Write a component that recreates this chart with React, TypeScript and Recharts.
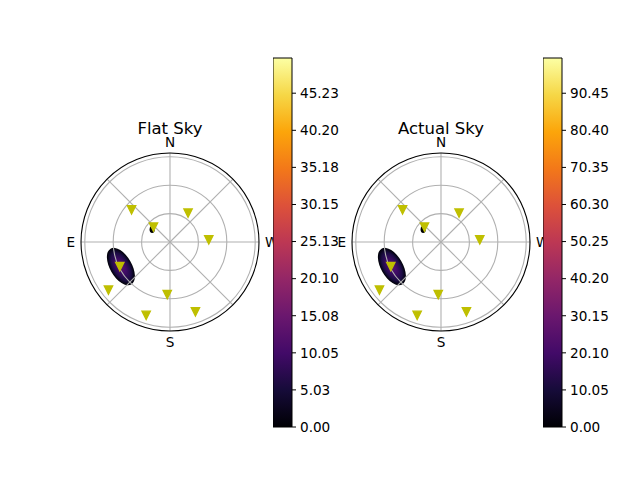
import {
  RadarChart,
  Radar,
  PolarGrid,
  PolarAngleAxis,
  PolarRadiusAxis,
  BarChart,
  Bar,
  XAxis,
  YAxis,
} from 'recharts'

// satellites: azimuth (deg, N=0, E=90) and zenith angle (deg)
const SAT_AZ = [50, 328, 48, 273, 116, 128, 177, 162, 200]
const SAT_ZEN = [53, 36, 23.5, 41, 59, 82.5, 55.5, 81.5, 78.5]

// bright spots in the sky map
const SPOT_AZ = [116.6, 55]
const SPOT_ZEN = [58, 23]
const SPOT_KIND = ['main', 'minor']

const COMPASS_TICKS = [0, 45, 90, 135, 180, 225, 270, 315]
const COMPASS_LABELS: Record<number, string> = { 0: 'N', 90: 'E', 180: 'S', 270: 'W' }
const RING_TICKS = [30, 60, 90]
const ZEN_MAX = 93.5

const FLAT_MAX = 50
const FLAT_TICKS = [0, 5.03, 10.05, 15.08, 20.1, 25.13, 30.15, 35.18, 40.2, 45.23]
const ACTUAL_MAX = 100
const ACTUAL_TICKS = [0, 10.05, 20.1, 30.15, 40.2, 50.25, 60.3, 70.35, 80.4, 90.45]

const INFERNO = [
  '#000004', '#160b39', '#420a68', '#6a176e', '#932667', '#bc3754',
  '#dd513a', '#f37819', '#fca50a', '#f6d746', '#fcffa4',
]

const FONT = 'DejaVu Sans'
const SAT_COLOR = '#bfbf00'
const SIZE = 240
const R_OUT = 89

const satData = SAT_AZ.map((az, i) => ({ az, zen: SAT_ZEN[i] }))
const spotData = SPOT_AZ.map((az, i) => ({ az, zen: SPOT_ZEN[i], kind: SPOT_KIND[i] }))

function CompassTick(props: any) {
  const { x, y, payload } = props
  const label = COMPASS_LABELS[payload.value]
  if (!label) return null
  let anchor = 'middle'
  let dy = '0'
  if (payload.value === 90) {
    anchor = 'end'
    dy = '0.36em'
  } else if (payload.value === 270) {
    anchor = 'start'
    dy = '0.36em'
  } else if (payload.value === 180) {
    dy = '0.73em'
  }
  return (
    <text x={x} y={y} dy={dy} textAnchor={anchor} fontSize={13.6} fill="#000" fontFamily={FONT}>
      {label}
    </text>
  )
}

function SatMarker(props: any) {
  const { cx, cy } = props
  const s = 4.2
  return (
    <path
      d={`M${cx - s},${cy - s}L${cx + s},${cy - s}L${cx},${cy + s}Z`}
      fill={SAT_COLOR}
      stroke={SAT_COLOR}
      strokeWidth={1.3}
      strokeLinejoin="miter"
    />
  )
}

function makeSpot(gid: string) {
  return (props: any) => {
    const { cx, cy, index } = props
    if (SPOT_KIND[index] === 'minor') {
      return <ellipse key={index} cx={cx} cy={cy} rx={2.6} ry={3.4} fill="#000004" />
    }
    return (
      <g key={index}>
        <defs>
          <radialGradient id={gid}>
            <stop offset="0%" stopColor="#5e1472" />
            <stop offset="40%" stopColor="#3c0b63" />
            <stop offset="72%" stopColor="#1c0c45" />
            <stop offset="90%" stopColor="#08051c" />
            <stop offset="100%" stopColor="#000004" />
          </radialGradient>
        </defs>
        <ellipse
          cx={cx}
          cy={cy}
          rx={10.9}
          ry={20.7}
          fill={`url(#${gid})`}
          transform={`rotate(-30 ${cx} ${cy})`}
        />
      </g>
    )
  }
}

function SkyPlot({ left, title, gid }: { left: number; title: string; gid: string }) {
  const common = {
    width: SIZE,
    height: SIZE,
    cx: SIZE / 2,
    cy: SIZE / 2,
    outerRadius: R_OUT,
    startAngle: 90,
    endAngle: 450,
    margin: { top: 0, right: 0, bottom: 0, left: 0 },
  }
  return (
    <>
      <div style={{ position: 'absolute', left, top: 242 - SIZE / 2 }}>
        <RadarChart {...common} data={spotData}>
          <PolarAngleAxis dataKey="az" type="number" domain={[0, 360]} ticks={COMPASS_TICKS} tick={false} axisLine={false} tickLine={false} />
          <PolarRadiusAxis type="number" domain={[0, ZEN_MAX]} ticks={RING_TICKS} tick={false} axisLine={false} tickLine={false} />
          <Radar dataKey="zen" fill="none" stroke="none" dot={makeSpot(gid)} isAnimationActive={false} />
        </RadarChart>
      </div>
      <div style={{ position: 'absolute', left, top: 242 - SIZE / 2 }}>
        <RadarChart {...common} data={satData}>
          <PolarGrid gridType="circle" stroke="#b0b0b0" strokeWidth={1.1} />
          <PolarAngleAxis
            dataKey="az"
            type="number"
            domain={[0, 360]}
            ticks={COMPASS_TICKS}
            tick={<CompassTick />}
            tickLine={false}
            tickSize={6}
            axisLineType="circle"
            axisLine={{ stroke: '#000', strokeWidth: 1.1 }}
          />
          <PolarRadiusAxis type="number" domain={[0, ZEN_MAX]} ticks={RING_TICKS} tick={false} axisLine={false} tickLine={false} />
          <Radar dataKey="zen" fill="none" stroke="none" dot={<SatMarker />} isAnimationActive={false} />
        </RadarChart>
      </div>
      <div
        style={{
          position: 'absolute',
          left: left + SIZE / 2 - 100,
          width: 200,
          top: 121.3,
          textAlign: 'center',
          fontSize: 16.5,
          lineHeight: '16px',
          color: '#000',
        }}
      >
        {title}
      </div>
    </>
  )
}

function ColorBar({ left, max, ticks, gid }: { left: number; max: number; ticks: number[]; gid: string }) {
  return (
    <div style={{ position: 'absolute', left, top: 48.3 }}>
      <BarChart
        width={79}
        height={389}
        data={[{ name: 'c', v: max }]}
        margin={{ top: 10, right: 0, bottom: 10, left: 0 }}
        barCategoryGap={0}
      >
        <defs>
          <linearGradient id={gid} x1="0" y1="1" x2="0" y2="0">
            {INFERNO.map((c, i) => (
              <stop key={i} offset={`${i * 10}%`} stopColor={c} />
            ))}
          </linearGradient>
        </defs>
        <XAxis dataKey="name" hide />
        <YAxis
          orientation="right"
          width={60}
          type="number"
          domain={[0, max]}
          ticks={ticks}
          interval={0}
          axisLine={false}
          tickLine={{ stroke: '#000', strokeWidth: 1 }}
          tickSize={4}
          tickMargin={4}
          tickFormatter={(v: number) => v.toFixed(2)}
          tick={{ fontSize: 13.6, fill: '#000', fontFamily: FONT }}
        />
        <Bar dataKey="v" fill={`url(#${gid})`} stroke="#000" strokeWidth={1} isAnimationActive={false} />
      </BarChart>
    </div>
  )
}

export default function App() {
  return (
    <div
      style={{
        position: 'absolute',
        left: 0,
        top: 0,
        width: 640,
        height: 480,
        background: '#fff',
        fontFamily: FONT,
        overflow: 'hidden',
      }}
    >
      <SkyPlot left={170 - SIZE / 2} title="Flat Sky" gid="spotFlat" />
      <ColorBar left={272.7} max={FLAT_MAX} ticks={FLAT_TICKS} gid="cbFlat" />
      <SkyPlot left={441 - SIZE / 2} title="Actual Sky" gid="spotActual" />
      <ColorBar left={542.7} max={ACTUAL_MAX} ticks={ACTUAL_TICKS} gid="cbActual" />
    </div>
  )
}
